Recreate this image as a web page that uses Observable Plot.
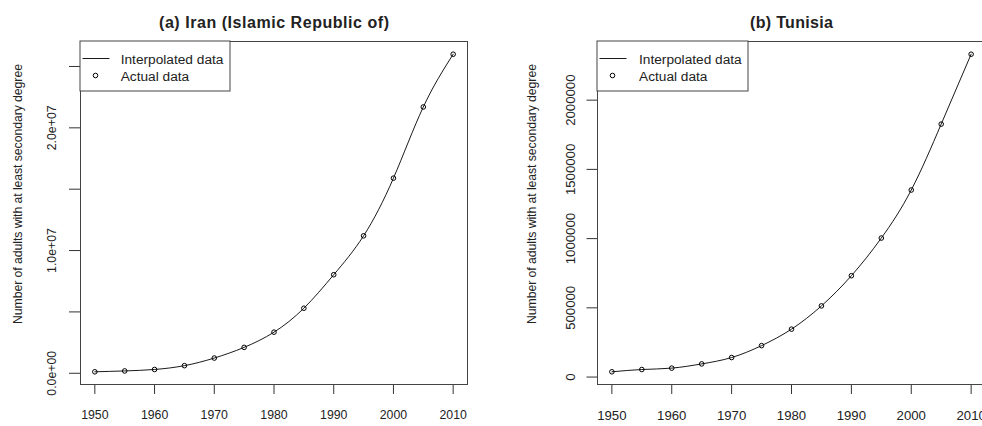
<!DOCTYPE html>
<html><head><meta charset="utf-8">
<script src="https://cdn.jsdelivr.net/npm/d3@7"></script>
<script src="https://cdn.jsdelivr.net/npm/@observablehq/plot@0.6"></script>
<style>
html,body{margin:0;padding:0;background:#fff;overflow:hidden;}
#wrap{display:flex;width:990px;height:426px;}
#wrap svg{display:block;flex:none;}
</style></head><body><div id="wrap"></div>
<script>
const years = [1950,1955,1960,1965,1970,1975,1980,1985,1990,1995,2000,2005,2010];
const iranAdults = [120000,190000,310000,620000,1240000,2110000,3350000,5300000,8030000,11200000,15900000,21700000,26000000];
const tunisiaAdults = [38000,54500,64600,95000,141000,227000,346000,514000,732000,1004000,1351000,1827000,2332000];
const xTicks = [1950,1960,1970,1980,1990,2000,2010];
const iranYTicks = [0,5000000,10000000,15000000,20000000,25000000];
const iranYLabelValues = [0,10000000,20000000];
const iranYLabelText = ["0.0e+00","1.0e+07","2.0e+07"];
const tunisiaYTicks = [0,500000,1000000,1500000,2000000];
const tunisiaYLabelValues = [0,500000,1000000,1500000,2000000];
const tunisiaYLabelText = ["0","500000","1000000","1500000","2000000"];
const panelTitles = ["(a) Iran (Islamic Republic of)","(b) Tunisia"];
const yTitle = "Number of adults with at least secondary degree";
const legendLabels = ["Interpolated data","Actual data"];

const FONT = "'Liberation Sans', Arial, Helvetica, sans-serif";
const INK = "#222";

function pad4(ext){ const r = ext[1]-ext[0]; return [ext[0]-0.04*r, ext[1]+0.04*r]; }

function panel(o){
  const data = years.map((y,i)=>({year:y, value:o.values[i]}));
  const svg = Plot.plot({
    width: o.width, height: 426,
    marginLeft: o.marginLeft, marginRight: o.marginRight, marginTop: 41, marginBottom: 42,
    style: {fontFamily: FONT, fontSize: o.tickFont+"px", color: INK, background: "white", overflow: "visible"},
    x: {domain: pad4(d3.extent(years))},
    y: {domain: pad4(d3.extent(o.values))},
    marks: [
      Plot.axisX(xTicks, {tickSize: 10, tickPadding: 16, fontSize: o.tickFont, tickFormat: d => String(d), label: null, stroke: "#333"}),
      Plot.axisY(o.yTicks, {tickSize: o.yTickSize, tickFormat: () => "", label: null, stroke: "#333"}),
      Plot.text(o.yLabelValues, {y: d => d, text: (d,i) => o.yLabelText[i], frameAnchor: "left", dx: o.labelDx, rotate: -90, textAnchor: "middle", fontSize: o.tickFont, fill: INK}),
      Plot.text([yTitle], {text: d => d, frameAnchor: "left", dx: o.titleDx, dy: -19, rotate: -90, textAnchor: "middle", fontSize: 12.3, fill: INK}),
      Plot.text([o.title], {text: d => d, frameAnchor: "top", dy: -24.5, fontWeight: "bold", fontSize: 16, fill: INK}),
      Plot.line(data, {x: "year", y: "value", curve: "natural", stroke: "#000", strokeWidth: 0.9}),
      Plot.dot(data, {x: "year", y: "value", r: 2.3, stroke: "#000", strokeWidth: 1, fill: "none"}),
      Plot.frame({stroke: "#444"})
    ]
  });
  // legend
  const L = o.marginLeft, T = 41;
  const g = d3.select(svg).append("g").attr("font-family", FONT).attr("font-size", o.legendFont)
    .attr("fill", INK).attr("text-anchor", "start");
  g.append("rect").attr("x", L).attr("y", T).attr("width", o.legendW).attr("height", 50)
    .attr("fill", "white").attr("stroke", "#444");
  g.append("line").attr("x1", L+2.5).attr("x2", L+29.5).attr("y1", T+17.5).attr("y2", T+17.5).attr("stroke", "#000").attr("stroke-width", 0.9);
  g.append("circle").attr("cx", L+15.5).attr("cy", T+34.5).attr("r", 2.3).attr("fill", "none").attr("stroke", "#000");
  g.append("text").attr("x", L+o.legendTextDx).attr("y", T+18).attr("dy", "0.35em").text(legendLabels[0]);
  g.append("text").attr("x", L+o.legendTextDx).attr("y", T+35).attr("dy", "0.35em").text(legendLabels[1]);
  d3.select(svg).selectAll("text").filter(function(){ return this.textContent === yTitle; })
    .attr("textLength", 260).attr("lengthAdjust", "spacing");
  d3.select(svg).selectAll("text").filter(function(){ return this.textContent === o.title; })
    .attr("textLength", o.titleLen).attr("lengthAdjust", "spacing");
  return svg;
}

const wrap = document.getElementById("wrap");
wrap.appendChild(panel({
  width: 490, marginLeft: 80, marginRight: 23, values: iranAdults, yTicks: iranYTicks,
  yLabelValues: iranYLabelValues, yLabelText: iranYLabelText, tickFont: 12.3, yTickSize: 11,
  labelDx: -28.5, titleDx: -62, title: panelTitles[0], titleLen: 230, legendW: 150, legendFont: 13.7, legendTextDx: 40.7
}));
wrap.appendChild(panel({
  width: 500, marginLeft: 107, marginRight: 5, values: tunisiaAdults, yTicks: tunisiaYTicks,
  yLabelValues: tunisiaYLabelValues, yLabelText: tunisiaYLabelText, tickFont: 13.2, yTickSize: 10.5,
  labelDx: -26.5, titleDx: -65, title: panelTitles[1], titleLen: 83, legendW: 151, legendFont: 13.7, legendTextDx: 42
}));
</script></body></html>
